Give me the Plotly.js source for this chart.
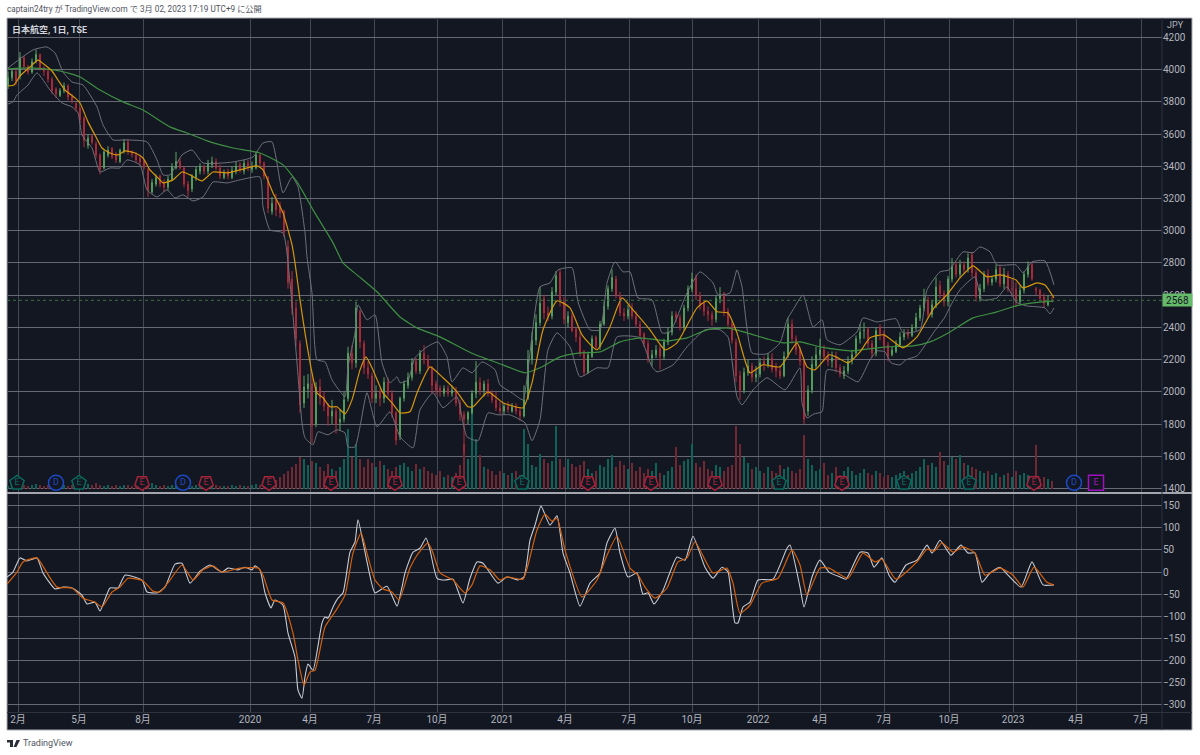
<!DOCTYPE html>
<html>
<head>
<meta charset="utf-8">
<script src="https://cdn.plot.ly/plotly-3.0.1.min.js"></script>
<style>html,body{margin:0;padding:0;background:#fff}</style>
</head>
<body>
<div id="chart" style="width:1200px;height:755px"></div>
<script>
// x axis is a plain slot count, 1 slot = one step of the time scale
var tickSlots = [11,72,136,243,303,367,430,495,558,622,685,751,813,877,942,1006,1069,1134];
var tickNames = ['2月','5月','8月','2020','4月','7月','10月','2021','4月','7月','10月','2022','4月','7月','10月','2023','4月','7月'];

// daily candles thinned to every 4th slot
var candleOpen = [
3900,3950,3990,3960,4075,4020,3985,4050,4095,4010,
3990,3940,3880,3840,3870,3900,3830,3790,3760,3700,
3530,3590,3540,3470,3390,3470,3510,3470,3430,3490,
3550,3480,3470,3450,3430,3380,3240,3290,3340,3300,
3270,3320,3390,3430,3390,3290,3260,3330,3370,3400,
3370,3410,3430,3390,3330,3370,3330,3370,3410,3370,
3420,3380,3390,3470,3420,3330,3120,3190,3160,3120,
2900,2700,2520,2300,1930,2020,2050,1800,2030,1970,
1910,1850,1880,1810,1830,1960,2240,2180,2500,2300,
2150,2100,1960,2000,1960,2060,1990,1870,1720,1960,
2040,2090,2190,2130,2240,2200,2150,2050,2020,1990,
2020,1990,2010,1930,1860,1830,1870,1990,2060,2010,
2050,1990,1950,1900,1880,1910,1880,1910,1880,1850,
1960,2200,2320,2430,2580,2490,2470,2620,2740,2560,
2430,2470,2390,2340,2250,2120,2220,2340,2280,2420,
2530,2640,2700,2600,2490,2470,2520,2470,2420,2360,
2300,2210,2230,2270,2220,2310,2370,2480,2460,2400,
2520,2640,2710,2600,2550,2500,2480,2450,2580,2610,
2500,2420,2310,2100,2010,2120,2160,2090,2110,2190,
2170,2210,2150,2130,2100,2230,2420,2330,2260,2190,
1880,2010,2160,2230,2260,2220,2190,2210,2150,2100,
2130,2190,2240,2330,2380,2390,2300,2240,2400,2360,
2290,2230,2250,2290,2340,2370,2350,2400,2460,
2520,2570,2480,2540,2660,2610,2560,2700,2790,2730,
2790,2760,2850,2740,2580,2640,2730,2680,2700,2770,
2670,2730,2640,2640,2560,2630,2730,2790,2640,2630,
2590,2540,2570];
var candleHigh = [
3990,4000,4000,4110,4085,4030,4070,4125,4100,4020,
4000,3955,3890,3885,3920,3910,3850,3800,3770,3710,
3600,3600,3555,3480,3500,3525,3520,3490,3510,3570,
3570,3500,3490,3470,3440,3390,3320,3350,3350,3320,
3340,3420,3490,3450,3400,3310,3350,3400,3420,3410,
3440,3460,3450,3410,3380,3385,3400,3430,3425,3440,
3440,3430,3490,3480,3430,3340,3210,3230,3180,3130,
2940,2750,2560,2320,2100,2110,2120,2060,2080,2000,
1930,1950,1900,1890,2000,2280,2290,2560,2510,2320,
2190,2120,2040,2020,2090,2090,2010,1880,1970,2070,
2120,2210,2210,2260,2290,2230,2160,2070,2040,2040,
2040,2040,2030,1950,1880,1880,2010,2190,2090,2070,
2080,2010,2000,1940,1930,1940,1930,1930,1900,2040,
2260,2370,2480,2650,2600,2530,2650,2750,2760,2590,
2500,2490,2400,2370,2260,2250,2350,2350,2440,2560,
2660,2760,2720,2620,2520,2540,2550,2500,2440,2370,
2320,2260,2290,2290,2330,2400,2500,2500,2480,2540,
2660,2740,2730,2620,2570,2530,2500,2600,2650,2620,
2520,2440,2330,2130,2150,2200,2180,2160,2210,2220,
2240,2240,2180,2160,2250,2460,2450,2350,2280,2200,
2040,2220,2280,2330,2290,2250,2250,2250,2170,2160,
2220,2260,2350,2420,2430,2400,2320,2400,2420,2380,
2310,2280,2320,2370,2390,2390,2420,2490,2540,
2640,2590,2570,2710,2690,2630,2720,2830,2810,2820,
2810,2860,2870,2760,2670,2750,2760,2720,2790,2790,
2770,2750,2700,2680,2660,2750,2810,2800,2650,2640,
2610,2600,2590];
var candleLow = [
3880,3930,3905,3940,4000,3970,3975,4040,3995,3960,
3920,3850,3825,3830,3855,3810,3790,3740,3670,3520,
3510,3535,3450,3350,3380,3455,3445,3420,3420,3480,
3470,3455,3425,3405,3380,3210,3230,3275,3270,3240,
3250,3310,3380,3380,3270,3210,3240,3310,3350,3350,
3350,3390,3375,3320,3320,3320,3320,3350,3360,3350,
3370,3360,3380,3400,3320,3110,3100,3090,3080,2960,
2640,2480,2280,1870,1900,1960,1680,1780,1920,1880,
1790,1800,1740,1760,1810,1940,2140,2150,2270,2110,
2080,1930,1930,1910,1930,1970,1840,1670,1700,1940,
2020,2070,2110,2110,2170,2130,1990,1980,1970,1970,
1970,1970,1910,1820,1620,1800,1860,1960,1980,1970,
1970,1930,1880,1860,1860,1870,1870,1860,1820,1840,
1950,2170,2290,2410,2450,2440,2450,2600,2530,2420,
2400,2370,2310,2220,2100,2110,2210,2260,2260,2410,
2510,2620,2580,2470,2440,2450,2450,2400,2330,2280,
2180,2160,2210,2140,2200,2290,2350,2430,2380,2380,
2500,2620,2570,2510,2470,2440,2410,2430,2550,2470,
2390,2300,2060,1950,1990,2100,2060,2060,2090,2130,
2150,2120,2090,2080,2090,2210,2300,2230,2160,1800,
1850,1990,2140,2200,2190,2160,2150,2120,2090,2080,
2110,2170,2220,2300,2330,2270,2210,2220,2320,2260,
2190,2220,2240,2280,2320,2330,2340,2380,2440,
2500,2460,2460,2520,2580,2530,2530,2680,2710,2710,
2730,2740,2710,2560,2560,2620,2660,2660,2680,2650,
2640,2620,2590,2530,2540,2610,2710,2690,2600,2560,
2520,2530,2555];
var candleClose = [
3950,3990,3930,4075,4020,3985,4050,4095,4010,3990,
3940,3870,3850,3870,3900,3830,3810,3760,3690,3560,
3575,3550,3470,3380,3490,3500,3460,3440,3500,3545,
3490,3475,3440,3425,3395,3250,3300,3330,3290,3270,
3320,3400,3430,3390,3290,3250,3340,3380,3400,3370,
3420,3430,3390,3340,3360,3340,3375,3400,3380,3420,
3390,3400,3470,3420,3340,3140,3170,3130,3110,2990,
2680,2520,2330,1920,2030,2050,1790,2030,1960,1910,
1850,1880,1800,1830,1950,2240,2180,2520,2310,2150,
2110,1960,1990,1960,2060,1990,1870,1700,1960,2050,
2090,2180,2130,2240,2200,2155,2040,2010,2000,2020,
1990,2010,1930,1860,1830,1870,1990,2060,2010,2050,
1990,1950,1900,1880,1910,1890,1905,1880,1850,1950,
2200,2320,2430,2550,2490,2470,2620,2720,2560,2450,
2470,2380,2340,2240,2120,2230,2330,2280,2420,2530,
2640,2710,2600,2490,2470,2510,2470,2420,2350,2300,
2210,2230,2260,2220,2310,2370,2470,2460,2400,2520,
2640,2700,2600,2540,2500,2480,2450,2580,2600,2500,
2420,2320,2100,2010,2120,2160,2090,2110,2180,2170,
2210,2140,2130,2100,2220,2420,2330,2260,2190,1830,
2010,2170,2230,2260,2220,2190,2210,2150,2110,2130,
2190,2230,2330,2370,2380,2300,2240,2380,2360,2290,
2220,2260,2290,2340,2360,2350,2400,2460,2520,
2580,2480,2540,2650,2610,2560,2700,2780,2730,2790,
2760,2830,2740,2590,2640,2730,2680,2700,2760,2670,
2730,2640,2640,2560,2630,2730,2780,2700,2630,2580,
2550,2565,2568];
// volume, about 10k shares
var volume = [
3,4,3,5,4,3,4,5,4,3,
4,3,5,3,4,3,4,4,3,4,
5,4,6,4,3,4,3,4,3,4,
4,3,4,3,4,5,6,4,3,4,
3,4,5,3,3,4,3,4,3,4,
3,3,4,3,3,3,4,3,4,3,
3,4,5,4,6,8,7,9,12,15,
18,22,25,32,30,24,28,26,22,18,
25,20,18,22,30,60,32,45,30,22,
30,26,22,28,24,20,18,22,24,26,
22,18,25,20,22,18,16,14,18,12,
14,12,16,24,45,30,84,50,34,22,
20,18,14,18,16,14,16,18,14,60,
45,24,22,35,30,26,28,63,30,22,
30,25,22,24,28,20,16,18,24,22,
30,34,22,28,24,20,26,18,22,16,
20,18,26,16,14,18,22,42,24,28,
30,45,26,22,28,20,18,24,22,18,
22,24,63,45,32,26,20,22,18,16,
22,18,16,24,20,22,18,16,20,54,
30,24,18,20,26,14,16,22,14,18,
22,18,14,16,20,16,14,18,16,12,
14,12,14,16,18,14,16,18,22,
30,24,26,22,37,28,24,32,30,34,
26,24,22,20,18,16,18,14,16,12,
14,16,12,18,14,16,14,12,44,10,
12,10,8];

var ma20Slots = [1,7,13,23,31,38,45,51,58,68,73,81,89,95,103,111,118,128,136,143,151,156,166,175,183,195,206,220,233,250,256,266,276,285,288,293,298,305,310,316,323,330,338,345,353,359,366,376,385,393,403,410,423,436,450,461,466,481,496,516,525,536,550,563,575,590,603,615,626,643,658,670,690,700,710,721,730,743,756,773,790,800,808,822,829,841,853,863,877,896,910,927,940,953,966,980,993,1009,1016,1030,1038,1047];
var ma20 = [3899,3905,3961,4017,4060,4029,3992,3936,3874,3825,3793,3676,3582,3514,3483,3471,3496,3483,3452,3378,3328,3297,3316,3365,3347,3310,3365,3359,3378,3403,3378,3235,3111,2912,2801,2571,2366,2118,1993,1963,1907,1907,1863,1950,2136,2217,2136,1993,1932,1870,1876,1993,2155,2087,2000,1907,1907,2000,1932,1901,2056,2385,2565,2521,2354,2261,2403,2583,2509,2385,2261,2304,2521,2565,2497,2490,2366,2118,2168,2155,2304,2155,2136,2230,2217,2180,2248,2335,2354,2273,2341,2521,2602,2707,2782,2714,2726,2695,2645,2676,2664,2583];

var ma200Slots = [1,26,53,73,93,116,136,163,180,203,226,253,276,290,306,326,336,350,370,393,410,433,466,496,518,533,553,573,593,613,633,660,680,700,720,740,760,776,793,813,843,879,906,923,943,966,990,1009,1026,1047];
var ma200 = [4005,4011,3992,3955,3874,3800,3750,3645,3607,3552,3514,3483,3409,3303,3130,2925,2801,2726,2621,2465,2397,2341,2236,2167,2118,2149,2217,2242,2248,2310,2335,2316,2335,2385,2397,2366,2329,2304,2310,2279,2254,2279,2285,2310,2372,2459,2496,2534,2552,2565];

var bbUpperSlots = [1,26,40,48,56,65,76,90,96,106,118,140,150,156,163,175,185,196,226,246,256,265,276,285,291,298,300,305,310,318,325,338,341,348,351,360,368,375,383,390,393,401,408,420,431,440,445,456,465,475,488,493,505,516,521,533,543,551,565,571,583,593,600,608,616,623,631,645,655,663,680,693,706,711,723,730,735,745,760,773,780,786,796,806,815,820,833,850,856,870,889,896,913,920,933,942,956,966,973,983,990,1009,1016,1025,1038,1047];
var bbUpper = [4011,4123,4141,4104,3986,3924,3905,3769,3657,3564,3564,3552,3440,3347,3347,3471,3502,3421,3427,3458,3545,3552,3235,3334,3272,2987,2838,2614,2199,2186,2074,1969,2155,2366,2540,2447,2478,2180,2056,2093,2056,2074,2211,2279,2310,2217,2062,2149,2118,2186,2137,2043,1994,1950,2137,2652,2676,2757,2770,2558,2385,2385,2676,2807,2745,2745,2583,2571,2366,2372,2614,2745,2676,2602,2614,2757,2652,2242,2236,2304,2447,2509,2602,2403,2447,2323,2292,2372,2459,2434,2453,2366,2385,2633,2745,2757,2869,2863,2900,2869,2788,2788,2739,2807,2813,2664];

var bbLowerSlots = [1,6,10,21,30,43,55,65,71,75,85,93,103,113,120,133,140,150,160,168,176,186,196,206,220,233,253,256,263,276,283,290,295,298,306,311,321,330,338,341,348,353,360,370,383,393,406,413,426,436,450,456,460,471,481,491,503,518,525,533,541,550,563,573,590,601,610,633,645,650,666,680,698,713,721,730,735,746,760,778,793,795,800,807,815,820,833,851,863,870,878,884,893,899,910,927,938,944,953,968,975,990,1000,1009,1019,1038,1043,1047];
var bbLower = [3787,3800,3843,3905,3980,3874,3794,3769,3732,3595,3514,3365,3390,3390,3440,3409,3254,3210,3254,3204,3223,3185,3210,3303,3297,3316,3334,3148,3005,2987,2676,2180,1807,1714,1671,1752,1733,1764,1745,1658,1658,1783,1994,1783,1876,1721,1652,1888,1994,1901,1969,1807,1721,1696,1869,1857,1857,1807,1696,1826,2261,2366,2279,2093,2149,2149,2341,2335,2155,2124,2167,2279,2385,2385,2341,1969,1919,2012,2087,2012,2149,1932,1838,1863,1876,2136,2124,2062,2199,2254,2248,2180,2167,2199,2223,2372,2465,2540,2633,2714,2571,2583,2652,2558,2534,2521,2484,2521];

// lower pane
var oscSlots = [0,6,13,20,30,36,48,56,65,75,80,88,93,103,111,118,135,140,150,158,168,175,183,193,203,215,221,231,238,245,248,253,258,264,268,276,281,288,291,295,298,301,306,315,318,321,326,331,336,343,348,351,360,368,380,390,395,398,406,413,419,423,430,438,446,456,463,470,476,491,500,511,517,523,528,534,543,550,556,563,573,583,593,600,608,613,621,630,636,641,647,656,670,678,686,698,706,715,721,728,731,736,743,751,766,780,783,793,797,805,813,822,833,839,853,861,867,875,882,888,899,910,920,925,933,944,954,961,968,975,983,993,1001,1014,1025,1036,1047];
var osc = [-11,0,32,25,32,-2,-38,-34,-36,-52,-72,-68,-88,-36,-36,-7,-18,-45,-47,-34,18,20,-25,2,16,0,9,5,11,5,14,5,-47,-81,-63,-75,-138,-192,-267,-285,-237,-208,-222,-115,-102,-104,-79,-59,-47,45,68,118,23,-47,-32,-77,-34,-2,45,54,77,50,-14,-18,-16,-70,-14,23,20,-25,-11,-18,-11,72,106,149,106,127,43,-2,-77,-25,-2,66,99,43,-11,-2,-50,-47,-72,-41,34,27,81,11,-14,11,0,-115,-115,-79,-68,-18,-16,54,61,-34,-79,-11,27,0,-11,-16,45,43,11,32,-7,-23,16,27,61,43,72,38,61,43,43,-23,-2,11,-7,-34,23,-29,-29];

var signalSlots = [0,10,16,30,40,50,65,76,88,95,105,113,121,136,146,153,163,175,186,196,206,215,233,251,256,265,276,286,291,297,303,308,318,328,338,346,354,361,368,376,385,392,403,410,421,426,433,446,458,465,473,483,493,500,516,521,530,538,545,550,558,575,590,600,610,623,631,638,648,660,671,680,688,706,720,726,733,743,755,771,785,793,800,813,822,841,856,868,875,889,910,920,927,935,946,956,968,978,993,1006,1016,1027,1040,1047];
var signal = [-27,0,23,32,-2,-34,-36,-59,-68,-79,-45,-34,-14,-20,-43,-45,-18,16,-18,5,14,0,9,9,-7,-63,-70,-138,-199,-256,-226,-222,-124,-90,-52,43,88,34,-18,-38,-45,-63,9,38,66,43,-2,-18,-47,-29,14,5,-18,-11,-16,16,95,131,115,122,50,-56,-18,38,81,9,-7,-34,-59,-36,23,32,68,-2,9,-25,-93,-75,-25,-14,50,16,-52,9,9,-14,43,23,29,-16,23,52,47,66,45,57,43,-7,9,-7,-34,11,-23,-29];

// earnings and dividend badges along the volume strip
var eventSlots = [10,49,72,135,176,199,262,324,388,452,515,581,644,708,772,835,897,962,1027,1067,1089];
var eventNames = ['E','D','E','E','D','E','E','E','E','E','E','E','E','E','E','E','E','E','E','D','E'];
var eventColors = ['#0b6b5e','#1c49c4','#0b6b5e','#a8243a','#1c49c4','#a8243a','#a8243a','#a8243a','#a8243a','#a8243a','#0b6b5e','#a8243a','#a8243a','#a8243a','#0b6b5e','#a8243a','#0b6b5e','#0b6b5e','#a8243a','#1c49c4','#a010c0'];
var eventSymbols = ['pentagon','circle','pentagon','pentagon','circle','pentagon','pentagon','pentagon','pentagon','pentagon','pentagon','pentagon','pentagon','pentagon','pentagon','pentagon','pentagon','pentagon','pentagon','circle','square'];
var eventAngles = [0,0,0,180,0,180,180,180,180,180,0,180,180,180,0,180,0,0,180,0,0];

var lastPrice = 2568;

var W = 1200, H = 755;
function px(x){ return x / W; }
function py(y){ return (H - y) / H; }

var candleSlots = candleClose.map(function(c, i){ return 1 + i * 4; });
var volumeColors = candleClose.map(function(c, i){
  return c >= candleOpen[i] ? '#0d6358' : '#722833';
});

function line(x, y, color, width, axis){
  return {x: x, y: y, type: 'scatter', mode: 'lines', yaxis: axis,
    line: {color: color, width: width, shape: 'spline', smoothing: 0.5},
    hoverinfo: 'skip'};
}

var traces = [
  {x: candleSlots, y: volume, type: 'bar', yaxis: 'y', width: 2,
   marker: {color: volumeColors, line: {width: 0}}, hoverinfo: 'skip'},
  {x: candleSlots, open: candleOpen, high: candleHigh, low: candleLow, close: candleClose,
   type: 'candlestick', yaxis: 'y3', whiskerwidth: 0,
   increasing: {line: {color: '#5aa862', width: 1}, fillcolor: '#5aa862'},
   decreasing: {line: {color: '#b82c3a', width: 1}, fillcolor: '#b82c3a'},
   hoverinfo: 'skip'},
  line(bbUpperSlots, bbUpper, '#6e717b', 1, 'y3'),
  line(bbLowerSlots, bbLower, '#6e717b', 1, 'y3'),
  line(ma200Slots, ma200, '#3f8f43', 1.2, 'y3'),
  line(ma20Slots, ma20, '#d4960c', 1.2, 'y3'),
  {x: eventSlots, y: eventSlots.map(function(){ return 1435; }), type: 'scatter', yaxis: 'y3',
   mode: 'markers+text', text: eventNames, textposition: 'middle center',
   textfont: {size: 9, color: eventColors, family: 'Roboto'},
   marker: {size: 15, symbol: eventSymbols, angle: eventAngles, color: '#131722',
            line: {color: eventColors, width: 1.5}},
   hoverinfo: 'skip'},
  line(oscSlots, osc, '#c9ccd3', 1.1, 'y2'),
  line(signalSlots, signal, '#d2600f', 1.2, 'y2')
];

var tickFont = {family: 'Roboto, "Noto Sans CJK JP", sans-serif', size: 10, color: '#b2b5be'};
var hGrid = '#666973';
var vGrid = '#444853';

var layout = {
  width: W, height: H,
  margin: {l: 0, r: 0, t: 0, b: 0},
  paper_bgcolor: '#ffffff',
  plot_bgcolor: '#131722',
  showlegend: false,
  hovermode: false,
  boxgap: 0.75,
  xaxis: {
    domain: [px(7), px(1162)], anchor: 'y2', range: [0, 1155], type: 'linear',
    tickmode: 'array', tickvals: tickSlots, ticktext: tickNames, ticks: '',
    tickfont: tickFont, gridcolor: vGrid, gridwidth: 1, zeroline: false,
    showline: false, rangeslider: {visible: false}
  },
  yaxis: {
    domain: [py(492), py(18)], range: [-3, 471], visible: false, fixedrange: true,
    showgrid: false, zeroline: false
  },
  yaxis3: {
    overlaying: 'y', side: 'right', anchor: 'x', range: [1378, 4321],
    tickmode: 'linear', tick0: 0, dtick: 200, ticks: '', ticklen: 0,
    tickfont: tickFont, gridcolor: hGrid, gridwidth: 1, zeroline: false, showline: false
  },
  yaxis2: {
    domain: [py(712.3), py(494)], anchor: 'x', side: 'right', range: [-317, 176.5],
    tickmode: 'linear', tick0: 0, dtick: 50, ticks: '',
    tickfont: tickFont, gridcolor: hGrid, gridwidth: 1, zeroline: false, showline: false
  },
  shapes: [
    {type: 'rect', xref: 'paper', yref: 'paper', x0: px(7), x1: px(1192), y0: py(730), y1: py(18),
     fillcolor: '#131722', line: {color: '#a9acb3', width: 1}, layer: 'below'},
    {type: 'line', xref: 'paper', yref: 'paper', x0: px(7), x1: px(1192), y0: py(493), y1: py(493),
     line: {color: '#a3a6ad', width: 2}},
    {type: 'line', xref: 'paper', yref: 'paper', x0: px(1162), x1: px(1162), y0: py(730), y1: py(18),
     line: {color: '#2f333e', width: 1}},
    {type: 'line', xref: 'paper', yref: 'paper', x0: px(7), x1: px(1192), y0: py(712.5), y1: py(712.5),
     line: {color: '#2f333e', width: 1}},
    {type: 'line', xref: 'paper', yref: 'y3', x0: px(7), x1: px(1162), y0: lastPrice, y1: lastPrice,
     line: {color: '#38703d', width: 1, dash: 'dot'}},
    // TradingView mark
    {type: 'path', xref: 'paper', yref: 'paper', fillcolor: '#2a2e39', line: {width: 0},
     path: 'M ' + px(7) + ' ' + py(740) + ' L ' + px(13) + ' ' + py(740) + ' L ' + px(13) + ' ' + py(747) +
           ' L ' + px(10) + ' ' + py(747) + ' L ' + px(10) + ' ' + py(742.5) + ' L ' + px(7) + ' ' + py(742.5) + ' Z'},
    {type: 'path', xref: 'paper', yref: 'paper', fillcolor: '#2a2e39', line: {width: 0},
     path: 'M ' + px(16.5) + ' ' + py(740) + ' L ' + px(20) + ' ' + py(740) + ' L ' + px(16.5) + ' ' + py(747) +
           ' L ' + px(13.5) + ' ' + py(747) + ' Z'}
  ],
  annotations: [
    {xref: 'paper', yref: 'paper', x: px(5), y: py(9), xanchor: 'left', yanchor: 'middle', showarrow: false,
     text: 'captain24try が TradingView.com で 3月 02, 2023 17:19 UTC+9 に公開',
     font: {family: 'Roboto, "Noto Sans CJK JP", sans-serif', size: 8.2, color: '#50535e'}},
    {xref: 'paper', yref: 'paper', x: px(10), y: py(29), xanchor: 'left', yanchor: 'middle', showarrow: false,
     text: '<b>日本航空, 1日, TSE</b>',
     font: {family: 'Roboto, "Noto Sans CJK JP", sans-serif', size: 9, color: '#d1d4dc'}},
    {xref: 'paper', yref: 'paper', x: px(1175), y: py(25), xanchor: 'center', yanchor: 'middle', showarrow: false,
     text: 'JPY', font: {family: tickFont.family, size: 9, color: tickFont.color}},
    {xref: 'paper', yref: 'paper', x: px(21), y: py(743), xanchor: 'left', yanchor: 'middle', showarrow: false,
     text: 'TradingView',
     font: {family: 'Roboto, sans-serif', size: 9, color: '#50535e'}},
    {xref: 'paper', yref: 'y3', x: px(1177.5), y: lastPrice, xanchor: 'center', yanchor: 'middle', showarrow: false,
     text: String(lastPrice), width: 29, height: 12, bgcolor: '#66bb6a', borderpad: 0,
     font: {family: 'Roboto, sans-serif', size: 10, color: '#131722'}}
  ]
};

Plotly.newPlot('chart', traces, layout, {displayModeBar: false, staticPlot: true});
</script>
</body>
</html>
